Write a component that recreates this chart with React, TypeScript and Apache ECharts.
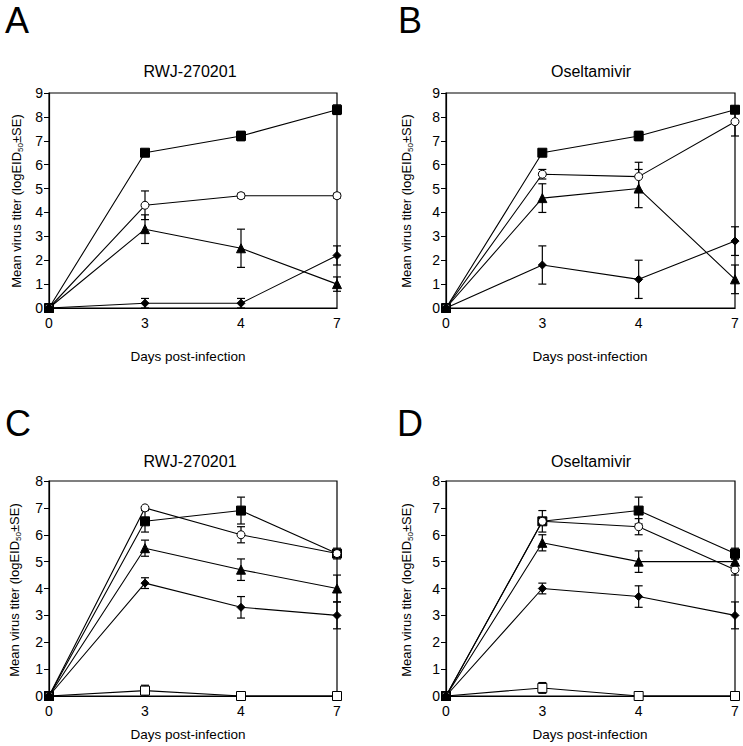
import React, { useEffect, useRef } from "react";
import * as echarts from "echarts";

const days = ["0", "3", "4", "7"];
const yTicks9 = 9;
const yTicks8 = 8;

// Panel A (RWJ-270201)
const aSq = [0, 6.5, 7.2, 8.3];
const aSqErr = [0, 0.05, 0.2, 0.2];
const aCi = [0, 4.3, 4.7, 4.7];
const aCiErr = [0, 0.6, 0.1, 0.1];
const aTr = [0, 3.3, 2.5, 1.0];
const aTrErr = [0, 0.6, 0.8, 0.3];
const aDi = [0, 0.2, 0.2, 2.2];
const aDiErr = [0, 0.2, 0.2, 0.4];

// Panel B (Oseltamivir)
const bSq = [0, 6.5, 7.2, 8.3];
const bSqErr = [0, 0.05, 0.2, 0.15];
const bCi = [0, 5.6, 5.5, 7.8];
const bCiErr = [0, 0.2, 0.6, 0.6];
const bTr = [0, 4.6, 5.0, 1.2];
const bTrErr = [0, 0.6, 0.8, 0.6];
const bDi = [0, 1.8, 1.2, 2.8];
const bDiErr = [0, 0.8, 0.8, 0.6];

// Panel C (RWJ-270201)
const cSq = [0, 6.5, 6.9, 5.3];
const cSqErr = [0, 0.4, 0.5, 0.2];
const cCi = [0, 7.0, 6.0, 5.3];
const cCiErr = [0, 0.05, 0.3, 0.1];
const cTr = [0, 5.5, 4.7, 4.0];
const cTrErr = [0, 0.3, 0.4, 0.5];
const cDi = [0, 4.2, 3.3, 3.0];
const cDiErr = [0, 0.2, 0.4, 0.5];
const cOs = [0, 0.2, 0, 0];
const cOsErr = [0, 0.2, 0, 0];

// Panel D (Oseltamivir)
const dSq = [0, 6.5, 6.9, 5.3];
const dSqErr = [0, 0.4, 0.5, 0.2];
const dCi = [0, 6.5, 6.3, 4.7];
const dCiErr = [0, 0.05, 0.3, 0.2];
const dTr = [0, 5.7, 5.0, 5.0];
const dTrErr = [0, 0.3, 0.4, 0.1];
const dDi = [0, 4.0, 3.7, 3.0];
const dDiErr = [0, 0.2, 0.4, 0.5];
const dOs = [0, 0.3, 0, 0];
const dOsErr = [0, 0.2, 0, 0];

const FONT = "'Liberation Sans', Arial, sans-serif";

type Kind = "sq" | "ci" | "tr" | "di" | "os";

const markerStyle: Record<Kind, any> = {
  sq: { symbol: "rect", symbolSize: 9, itemStyle: { color: "#000", borderColor: "#000", borderWidth: 1 } },
  ci: { symbol: "circle", symbolSize: 8, itemStyle: { color: "#fff", borderColor: "#000", borderWidth: 1 } },
  tr: { symbol: "triangle", symbolSize: 9, itemStyle: { color: "#000", borderColor: "#000", borderWidth: 1 } },
  di: { symbol: "diamond", symbolSize: 8, itemStyle: { color: "#000", borderColor: "#000", borderWidth: 1 } },
  os: { symbol: "rect", symbolSize: 9, itemStyle: { color: "#fff", borderColor: "#000", borderWidth: 1 } },
};

function errRender(params: any, api: any) {
  const x = api.value(0);
  const y = api.value(1);
  const e = api.value(2);
  const top = api.coord([x, y + e]);
  const bot = api.coord([x, Math.max(0, y - e)]);
  const w = 4;
  const st = { stroke: "#000", lineWidth: 1.2 };
  return {
    type: "group",
    children: [
      { type: "line", shape: { x1: top[0], y1: top[1], x2: bot[0], y2: bot[1] }, style: st },
      { type: "line", shape: { x1: top[0] - w, y1: top[1], x2: top[0] + w, y2: top[1] }, style: st },
      { type: "line", shape: { x1: bot[0] - w, y1: bot[1], x2: bot[0] + w, y2: bot[1] }, style: st },
    ],
  };
}

export default function App() {
  const ref = useRef<HTMLDivElement>(null);
  useEffect(() => {
    document.body.style.margin = "0";
    const chart = echarts.init(ref.current!, null, { renderer: "svg" });

    const grids = [
      { left: 49, top: 93, width: 288, height: 215 },
      { left: 446, top: 93, width: 289, height: 215 },
      { left: 49, top: 481, width: 288, height: 215 },
      { left: 446, top: 481, width: 289, height: 215 },
    ];
    const panels: { max: number; sets: [Kind, number[], number[]][] }[] = [
      { max: yTicks9, sets: [["sq", aSq, aSqErr], ["ci", aCi, aCiErr], ["tr", aTr, aTrErr], ["di", aDi, aDiErr]] },
      { max: yTicks9, sets: [["sq", bSq, bSqErr], ["ci", bCi, bCiErr], ["tr", bTr, bTrErr], ["di", bDi, bDiErr]] },
      { max: yTicks8, sets: [["os", cOs, cOsErr], ["sq", cSq, cSqErr], ["ci", cCi, cCiErr], ["tr", cTr, cTrErr], ["di", cDi, cDiErr]] },
      { max: yTicks8, sets: [["os", dOs, dOsErr], ["sq", dSq, dSqErr], ["ci", dCi, dCiErr], ["tr", dTr, dTrErr], ["di", dDi, dDiErr]] },
    ];

    const series: any[] = [];
    panels.forEach((p, gi) => {
      p.sets.forEach(([kind, vals, errs]) => {
        series.push({
          type: "custom",
          xAxisIndex: gi,
          yAxisIndex: gi,
          renderItem: errRender,
          z: 2,
          clip: false,
          data: vals.map((v, i) => [i, v, errs[i]]).filter((d) => d[2] > 0),
        });
        series.push({
          type: "line",
          xAxisIndex: gi,
          yAxisIndex: gi,
          data: vals,
          z: 3,
          lineStyle: { color: "#000", width: 1.1 },
          ...markerStyle[kind],
        });
      });
    });

    const xAxes = grids.map((_, gi) => ({
      type: "category",
      gridIndex: gi,
      data: days,
      boundaryGap: false,
      axisLine: { lineStyle: { color: "#000", width: 1.2 } },
      axisTick: { show: false },
      axisLabel: { color: "#000", fontSize: 14, fontFamily: FONT, margin: 8 },
    }));
    const yAxes = panels.map((p, gi) => ({
      type: "value",
      gridIndex: gi,
      min: 0,
      max: p.max,
      interval: 1,
      axisLine: { show: true, lineStyle: { color: "#000", width: 1.2 } },
      axisTick: { show: true, length: 5, lineStyle: { color: "#000" } },
      splitLine: { show: false },
      axisLabel: { color: "#000", fontSize: 14, fontFamily: FONT, margin: 6 },
    }));

    const letters = [
      { t: "A", x: 5, y: 20 },
      { t: "B", x: 398, y: 20 },
      { t: "C", x: 5, y: 423 },
      { t: "D", x: 397, y: 423 },
    ];
    const titles = [
      { t: "RWJ-270201", x: 190, y: 71 },
      { t: "Oseltamivir", x: 591, y: 71 },
      { t: "RWJ-270201", x: 190, y: 461 },
      { t: "Oseltamivir", x: 591, y: 461 },
    ];
    const xNames = [
      { x: 188, y: 356 },
      { x: 590, y: 356 },
      { x: 188, y: 734 },
      { x: 590, y: 734 },
    ];
    const yNames = [
      { x: 16, y: 201 },
      { x: 406, y: 201 },
      { x: 14, y: 590 },
      { x: 406, y: 590 },
    ];

    const graphic: any[] = [];
    letters.forEach((l) =>
      graphic.push({
        type: "text",
        x: l.x,
        y: l.y,
        style: { text: l.t, font: `36px ${FONT}`, fill: "#000", textAlign: "left", textVerticalAlign: "middle" },
      })
    );
    titles.forEach((l) =>
      graphic.push({
        type: "text",
        x: l.x,
        y: l.y,
        style: { text: l.t, font: `16px ${FONT}`, fill: "#000", textAlign: "center", textVerticalAlign: "middle" },
      })
    );
    xNames.forEach((l) =>
      graphic.push({
        type: "text",
        x: l.x,
        y: l.y,
        style: { text: "Days post-infection", font: `13.5px ${FONT}`, fill: "#000", textAlign: "center", textVerticalAlign: "middle" },
      })
    );
    yNames.forEach((l) =>
      graphic.push({
        type: "text",
        x: l.x,
        y: l.y,
        rotation: Math.PI / 2,
        style: {
          text: "{m|Mean virus titer (logEID}{s|50}{m|±SE)}",
          textAlign: "center",
          textVerticalAlign: "middle",
          fill: "#000",
          rich: {
            m: { fontSize: 13, fontFamily: FONT, fill: "#000", lineHeight: 16, verticalAlign: "middle" },
            s: { fontSize: 8, fontFamily: FONT, fill: "#000", lineHeight: 16, verticalAlign: "bottom", padding: [6, 0, 0, 0] },
          },
        },
      })
    );

    chart.setOption({
      animation: false,
      backgroundColor: "#fff",
      grid: grids.map((g) => ({ ...g, show: true, borderColor: "#000", borderWidth: 1.2, backgroundColor: "transparent" })),
      xAxis: xAxes,
      yAxis: yAxes,
      series,
      graphic,
    });
    return () => chart.dispose();
  }, []);
  return <div ref={ref} style={{ width: 743, height: 746 }} />;
}
